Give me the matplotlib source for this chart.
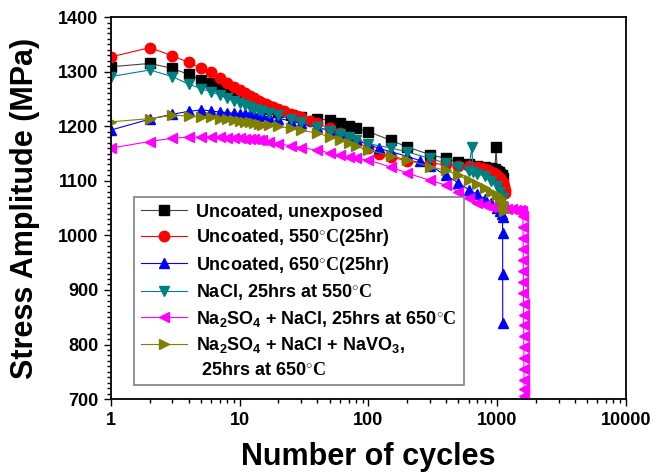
import numpy as np
import matplotlib.pyplot as plt
from matplotlib.ticker import MultipleLocator, LogLocator, NullFormatter, FixedLocator, FixedFormatter

plt.rcParams['font.family'] = 'Liberation Sans'
plt.rcParams['font.weight'] = 'bold'
plt.rcParams['mathtext.fontset'] = 'custom'
plt.rcParams['mathtext.rm'] = 'Liberation Sans:bold'
plt.rcParams['mathtext.bf'] = 'Liberation Sans:bold'
plt.rcParams['mathtext.sf'] = 'Liberation Serif'
plt.rcParams['mathtext.default'] = 'rm'

# Uncoated, unexposed
x_unexp = [1, 2, 3, 4, 5, 6, 7, 8, 9, 10, 11, 12, 13, 14, 15, 17, 20, 25, 30, 40, 50, 60, 70, 80,
           100, 150, 200, 300, 400, 500, 600, 700, 800, 900, 960, 980, 1000, 1030, 1060, 1080, 1100]
y_unexp = [1309, 1315, 1306, 1295, 1285, 1279, 1273, 1267, 1262, 1256, 1251, 1247, 1243, 1240, 1237,
           1232, 1226, 1220, 1217, 1214, 1211, 1205, 1201, 1196, 1190, 1174, 1162, 1148, 1141, 1135,
           1130, 1128, 1126, 1123, 1121, 1162, 1118, 1116, 1113, 1110, 1105]

# Uncoated, 550C
x_550 = [1, 2, 3, 4, 5, 6, 7, 8, 9, 10, 11, 12, 13, 14, 15, 16, 17, 18, 20, 22, 25, 28, 30, 35, 40,
         50, 60, 70, 80, 100, 120, 150, 200, 300, 400, 500, 600, 700, 750, 800, 850, 900, 950, 1000,
         1050, 1100, 1120, 1140, 1150]
y_550 = [1327, 1344, 1329, 1317, 1306, 1299, 1289, 1280, 1271, 1266, 1260, 1255, 1251, 1247, 1243,
         1240, 1237, 1235, 1231, 1227, 1222, 1219, 1216, 1210, 1205, 1196, 1188, 1180, 1172, 1160,
         1150, 1143, 1137, 1132, 1130, 1128, 1127, 1125, 1123, 1121, 1119, 1117, 1114, 1111, 1106,
         1098, 1090, 1083, 1077]

# Uncoated, 650C
x_650 = [1, 2, 3, 4, 5, 6, 7, 8, 9, 10, 11, 12, 13, 14, 15, 17, 20, 25, 30, 40, 50, 60, 70, 80,
         100, 120, 150, 200, 250, 300, 400, 500, 600, 700, 800, 900, 1000, 1050, 1080, 1100, 1102,
         1103, 1104]
y_650 = [1193, 1213, 1222, 1227, 1230, 1228, 1226, 1225, 1224, 1223, 1222, 1222, 1221, 1220, 1219,
         1217, 1214, 1210, 1205, 1198, 1192, 1186, 1180, 1175, 1166, 1160, 1153, 1145, 1137, 1128,
         1110, 1096, 1084, 1075, 1067, 1059, 1050, 1045, 1040, 1034, 1005, 929, 839]

# NaCl, 550C
x_nacl = [1, 2, 3, 4, 5, 6, 7, 8, 9, 10, 11, 12, 13, 14, 15, 17, 20, 25, 30, 40, 50, 60, 70, 80,
          100, 150, 200, 300, 400, 500, 600, 635, 650, 700, 800, 900, 1000, 1050, 1100]
y_nacl = [1291, 1303, 1291, 1277, 1269, 1263, 1257, 1251, 1246, 1242, 1238, 1235, 1232, 1229, 1227,
          1224, 1220, 1213, 1207, 1198, 1191, 1185, 1180, 1175, 1168, 1160, 1153, 1141, 1132, 1125,
          1118, 1162, 1116, 1113, 1108, 1100, 1090, 1080, 1068]

# Na2SO4 + NaCl, 650C
x_sulf = [1, 2, 3, 4, 5, 6, 7, 8, 9, 10, 11, 12, 13, 14, 15, 17, 20, 25, 30, 40, 50, 60, 70, 80,
          100, 150, 200, 300, 400, 500, 600, 700, 800, 900, 1000, 1100, 1200, 1300, 1400, 1500, 1560,
          1585, 1588, 1590, 1592, 1594, 1596, 1598, 1600, 1602, 1604, 1606, 1608, 1610, 1612, 1614,
          1616, 1618, 1620]
y_sulf = [1160, 1172, 1178, 1180, 1180, 1180, 1180, 1179, 1179, 1178, 1177, 1177, 1176, 1175, 1174,
          1172, 1168, 1164, 1161, 1156, 1151, 1147, 1143, 1141, 1138, 1125, 1114, 1101, 1092, 1080,
          1068, 1060, 1055, 1052, 1051, 1050, 1049, 1048, 1047, 1046, 1045, 1035, 1015, 995, 975,
          955, 935, 915, 895, 875, 855, 835, 815, 795, 775, 755, 735, 718, 705]

# Na2SO4 + NaCl + NaVO3, 650C
x_vana = [1, 2, 3, 4, 5, 6, 7, 8, 9, 10, 11, 12, 13, 14, 15, 17, 20, 25, 30, 40, 50, 60, 70, 80,
          100, 150, 200, 300, 400, 500, 600, 700, 800, 900, 1000, 1050, 1100, 1110, 1120]
y_vana = [1208, 1214, 1220, 1219, 1217, 1216, 1214, 1213, 1211, 1210, 1208, 1207, 1206, 1204, 1203,
          1202, 1200, 1196, 1193, 1187, 1181, 1175, 1169, 1163, 1156, 1146, 1138, 1126, 1119, 1110,
          1101, 1094, 1086, 1080, 1074, 1068, 1062, 1053, 1045]

fig = plt.figure(figsize=(6.51, 4.74), dpi=100)
ax = fig.add_axes([0.1705, 0.158, 0.791, 0.806])

ms = 7
ax.plot(x_unexp, y_unexp, color='#444444', lw=0.8, marker='s', ms=6.5, mfc='k', mec='k',
        label='Uncoated, unexposed')
ax.plot(x_550, y_550, color='#ff0000', lw=0.8, marker='o', ms=ms + 0.5, mec='#ff0000',
        label=r'Uncoated, 550$^{\circ}\mathsf{C}$(25hr)')
ax.plot(x_650, y_650, color='#0000ff', lw=0.8, marker='^', ms=ms + 0.5, mec='#0000ff',
        label=r'Uncoated, 650$^{\circ}\mathsf{C}$(25hr)')
ax.plot(x_nacl, y_nacl, color='#008080', lw=0.8, marker='v', ms=ms + 0.5, mec='#008080',
        label=r'NaCl, 25hrs at 550$^{\circ}\mathsf{C}$')
ax.plot(x_sulf, y_sulf, color='#ff00ff', lw=0.8, marker='<', ms=ms + 0.5, mec='#ff00ff',
        label=r'Na$_{2}$SO$_{4}$ + NaCl, 25hrs at 650$^{\circ}\mathsf{C}$')
ax.plot(x_vana, y_vana, color='#808000', lw=0.8, marker='>', ms=ms + 0.5, mec='#808000',
        label=r'Na$_{2}$SO$_{4}$ + NaCl + NaVO$_{3}$,')
ax.plot([], [], color='none', label=r' 25hrs at 650$^{\circ}\mathsf{C}$')

ax.set_xscale('log')
ax.set_xlim(1, 10000)
ax.set_ylim(700, 1400)
ax.yaxis.set_major_locator(MultipleLocator(100))
ax.yaxis.set_minor_locator(MultipleLocator(10))
ax.xaxis.set_major_locator(FixedLocator([1, 10, 100, 1000, 10000]))
ax.xaxis.set_major_formatter(FixedFormatter(['1', '10', '100', '1000', '10000']))
ax.xaxis.set_minor_locator(LogLocator(base=10, subs=np.arange(2, 10)))
ax.xaxis.set_minor_formatter(NullFormatter())

ax.tick_params(which='both', direction='out', top=False, right=False, labelsize=13, width=1)
ax.tick_params(which='major', length=5, pad=4)
ax.tick_params(which='minor', length=3)
for s in ax.spines.values():
    s.set_linewidth(1.3)

ax.set_xlabel('Number of cycles', fontsize=22, fontweight='bold')
ax.set_ylabel('Stress Amplitude (MPa)', fontsize=22, fontweight='bold')
ax.yaxis.set_label_coords(-0.137, 0.5)
ax.xaxis.set_label_coords(0.5, -0.112)

leg = ax.legend(loc='lower left', bbox_to_anchor=(0.0447, 0.0366), borderaxespad=0,
                fontsize=13, handlelength=2.6, handletextpad=0.5, labelspacing=0.36,
                borderpad=0.36, fancybox=False, framealpha=1, edgecolor='#808080')
leg.get_frame().set_linewidth(1.2)

fig.savefig('out.png', dpi=100)
